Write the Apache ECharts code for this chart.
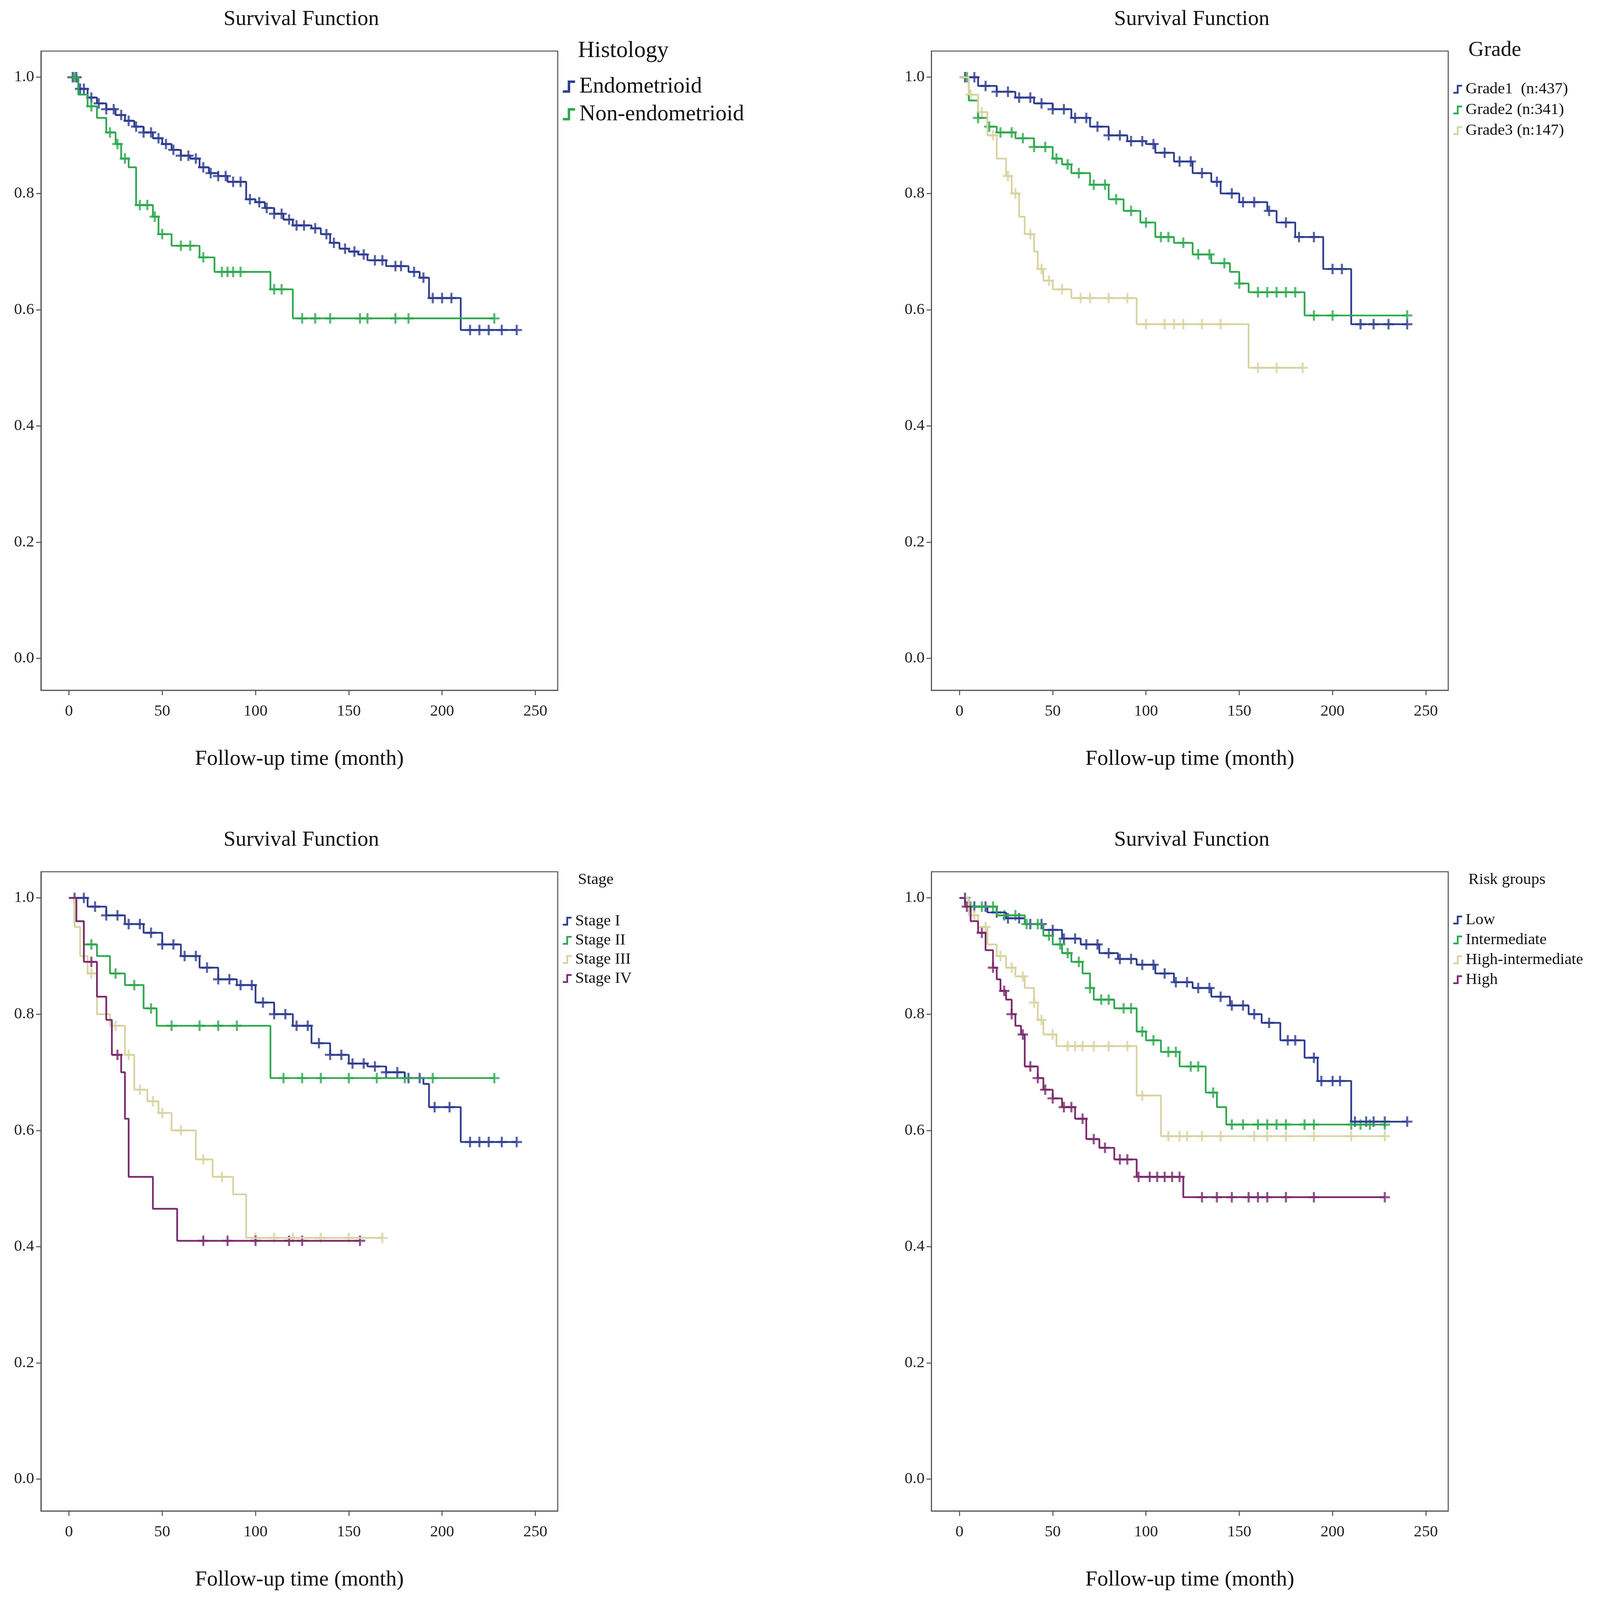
<!DOCTYPE html>
<html>
<head>
<meta charset="utf-8">
<script src="https://cdn.jsdelivr.net/npm/echarts@6/dist/echarts.min.js"></script>
<style>html,body{margin:0;background:#fff;overflow:hidden}#main{width:100vw;height:100vh}</style>
</head>
<body>
<div id="main"></div>
<script>
// step curves: [time, survival], last point = end of follow-up
const endo = [[0,1],[5,0.98],[10,0.965],[15,0.955],[20,0.945],[25,0.935],[30,0.925],[35,0.915],[40,0.905],[45,0.895],[50,0.885],[55,0.875],[60,0.865],[65,0.86],[70,0.845],[75,0.835],[80,0.83],[85,0.82],[95,0.79],[100,0.785],[105,0.775],[110,0.765],[115,0.755],[120,0.745],[130,0.74],[135,0.73],[140,0.715],[145,0.705],[150,0.7],[155,0.695],[160,0.685],[170,0.675],[182,0.665],[188,0.655],[193,0.62],[210,0.565],[240,0.565]]
const nonEndo = [[0,1],[5,0.97],[10,0.95],[15,0.93],[20,0.905],[25,0.885],[28,0.86],[32,0.845],[36,0.78],[45,0.76],[48,0.73],[55,0.71],[70,0.69],[78,0.665],[108,0.635],[120,0.585],[228,0.585]]
const endoCens = [2,4,6,8,12,16,20,24,28,32,36,40,44,48,52,56,60,64,68,72,76,80,84,88,92,97,102,106,110,114,118,122,126,132,138,142,148,153,158,164,168,175,178,185,190,195,200,205,215,220,225,232,240]
const nonEndoCens = [3,12,22,26,30,38,42,46,50,60,65,72,82,85,88,92,110,114,125,132,140,156,160,175,182,228]

const grade1 = [[0,1],[10,0.985],[20,0.975],[30,0.965],[40,0.955],[50,0.945],[60,0.93],[70,0.915],[80,0.9],[90,0.89],[100,0.885],[105,0.87],[115,0.855],[125,0.835],[135,0.82],[140,0.8],[150,0.785],[165,0.77],[170,0.75],[180,0.725],[195,0.67],[210,0.575],[240,0.575]]
const grade2 = [[0,1],[5,0.96],[10,0.93],[15,0.915],[20,0.905],[30,0.895],[40,0.88],[50,0.86],[55,0.85],[60,0.835],[70,0.815],[80,0.79],[88,0.77],[97,0.75],[105,0.725],[115,0.715],[125,0.695],[135,0.68],[145,0.665],[150,0.645],[155,0.63],[185,0.59],[240,0.59]]
const grade3 = [[0,1],[5,0.97],[10,0.94],[15,0.9],[20,0.86],[25,0.83],[28,0.8],[32,0.76],[35,0.73],[40,0.7],[42,0.67],[45,0.65],[50,0.635],[60,0.62],[95,0.575],[155,0.5],[184,0.5]]
const grade1Cens = [3,8,14,20,26,32,38,44,50,56,62,68,74,80,86,92,98,104,110,118,124,130,138,146,152,158,166,175,182,190,200,205,215,222,230,240]
const grade2Cens = [4,10,16,22,28,34,40,46,52,58,64,72,78,84,92,100,108,112,120,128,134,142,150,160,165,170,175,180,190,200,240]
const grade3Cens = [6,12,18,26,30,38,44,48,55,65,70,80,90,100,110,115,120,130,140,160,170,184]

const stage1 = [[0,1],[10,0.985],[20,0.97],[30,0.955],[40,0.94],[50,0.92],[60,0.9],[70,0.88],[80,0.86],[90,0.85],[100,0.82],[110,0.8],[120,0.78],[130,0.75],[140,0.73],[150,0.715],[160,0.71],[170,0.7],[180,0.69],[190,0.68],[193,0.64],[210,0.58],[240,0.58]]
const stage2 = [[0,1],[3,0.96],[8,0.92],[15,0.9],[22,0.87],[30,0.85],[40,0.81],[47,0.78],[108,0.69],[228,0.69]]
const stage3 = [[0,1],[3,0.95],[6,0.9],[10,0.87],[15,0.8],[22,0.78],[30,0.73],[35,0.67],[42,0.65],[48,0.63],[55,0.6],[68,0.55],[77,0.52],[88,0.49],[95,0.415],[168,0.415]]
const stage4 = [[0,1],[4,0.96],[8,0.89],[15,0.83],[20,0.79],[23,0.73],[28,0.7],[30,0.62],[32,0.52],[45,0.465],[58,0.41],[156,0.41]]
const stage1Cens = [3,8,14,20,26,32,38,44,50,56,62,68,74,80,86,92,98,104,110,116,122,128,134,140,146,152,158,164,170,176,182,188,196,204,215,220,225,232,240]
const stage2Cens = [12,25,35,44,55,70,80,90,115,125,135,150,165,180,195,228]
const stage3Cens = [12,25,32,38,45,50,60,72,82,100,110,120,135,150,168]
const stage4Cens = [12,26,72,85,100,118,125,156]

const low = [[0,1],[5,0.985],[15,0.975],[25,0.965],[35,0.955],[45,0.945],[55,0.93],[65,0.92],[75,0.905],[85,0.895],[95,0.885],[105,0.87],[115,0.855],[125,0.845],[135,0.83],[145,0.815],[155,0.8],[162,0.785],[172,0.755],[185,0.725],[192,0.685],[210,0.615],[240,0.615]]
const inter = [[0,1],[5,0.985],[20,0.97],[35,0.955],[45,0.935],[50,0.92],[55,0.905],[60,0.89],[66,0.87],[70,0.845],[72,0.825],[83,0.81],[95,0.77],[100,0.755],[108,0.735],[118,0.71],[132,0.665],[138,0.64],[143,0.61],[228,0.61]]
const highInter = [[0,1],[5,0.97],[10,0.95],[15,0.92],[20,0.9],[25,0.88],[30,0.865],[35,0.845],[40,0.82],[42,0.79],[45,0.765],[52,0.745],[95,0.66],[108,0.59],[228,0.59]]
const high = [[0,1],[3,0.985],[6,0.96],[10,0.94],[14,0.91],[18,0.88],[20,0.86],[22,0.84],[25,0.825],[28,0.8],[30,0.78],[33,0.765],[35,0.71],[42,0.69],[45,0.67],[50,0.655],[55,0.64],[62,0.62],[68,0.585],[75,0.57],[83,0.55],[95,0.52],[120,0.485],[228,0.485]]
const lowCens = [3,8,14,20,26,32,38,44,50,56,62,68,74,80,86,92,98,104,110,116,122,128,134,140,146,152,158,166,176,180,190,194,200,204,212,218,222,228,240]
const interCens = [6,12,18,24,30,36,42,48,54,58,64,70,76,80,88,92,98,104,112,116,124,128,136,146,152,160,165,170,175,185,190,210,215,220,228]
const highInterCens = [8,14,22,28,34,40,44,50,58,62,66,72,80,90,98,112,118,122,130,140,158,165,175,190,210,228]
const highCens = [4,12,18,24,28,34,38,42,46,50,56,60,66,72,78,86,90,96,102,106,110,114,118,130,138,146,155,160,165,175,190,228]

const xTicks = [0,50,100,150,200,250]
const yTicks = [0,0.2,0.4,0.6,0.8,1.0]

const C = {blue:'#2f3d8f', green:'#2fa84f', beige:'#d8d3a0', purple:'#7b2a6e'}
const serif = 'Liberation Serif'

function stepAt (curve, t) {
  let v = curve[0][1]
  for (let i = 0; i < curve.length; i++) if (curve[i][0] <= t) v = curve[i][1]
  return v
}

const panels = [
  {left:132, top:132, title:'Histology', titleSize:66, legendSize:64, legendTop:190, legendGap:14,
    lines:[['Endometrioid',endo,endoCens,C.blue],['Non-endometrioid',nonEndo,nonEndoCens,C.green]]},
  {left:3001, top:132, title:'Grade', titleSize:62, legendSize:46, legendTop:205, legendGap:12,
    lines:[['Grade1  (n:437)',grade1,grade1Cens,C.blue],['Grade2 (n:341)',grade2,grade2Cens,C.green],['Grade3 (n:147)',grade3,grade3Cens,C.beige]]},
  {left:132, top:2253, title:'Stage', titleSize:46, legendSize:46, legendTop:2355, legendGap:8,
    lines:[['Stage I',stage1,stage1Cens,C.blue],['Stage II',stage2,stage2Cens,C.green],['Stage III',stage3,stage3Cens,C.beige],['Stage IV',stage4,stage4Cens,C.purple]]},
  {left:3001, top:2253, title:'Risk groups', titleSize:46, legendSize:46, legendTop:2352, legendGap:10,
    lines:[['Low',low,lowCens,C.blue],['Intermediate',inter,interCens,C.green],['High-intermediate',highInter,highInterCens,C.beige],['High',high,highCens,C.purple]]}
]

const chart = echarts.init(document.getElementById('main'))
// layout designed for 5155x4135; scale to the real viewport
const sx = chart.getWidth() / 5155, sy = chart.getHeight() / 4135, sf = (sx + sy) / 2
const W = 1665, H = 1652
const grid = [], xAxis = [], yAxis = [], series = [], legend = [], graphic = [], title = []
const plus = 'path://M4,0H6V4H10V6H6V10H4V6H0V4H4Z'
const stepIcon = 'path://M0,9H4V1H10V3H6V11H0Z'

panels.forEach((p, i) => {
  grid.push({left:p.left * sx, top:p.top * sy, width:W * sx, height:H * sy, show:true, borderColor:'#555', borderWidth:3 * sf, backgroundColor:'#fff'})
  xAxis.push({gridIndex:i, type:'value', min:-15, max:262, name:'Follow-up time (month)', nameLocation:'middle', nameGap:150 * sy,
    nameTextStyle:{fontFamily:serif, fontSize:62 * sf, color:'#111'},
    splitLine:{show:false}, axisLine:{onZero:false, lineStyle:{color:'#555', width:3 * sf}},
    axisTick:{customValues:xTicks, length:14 * sf, lineStyle:{color:'#555', width:3 * sf}},
    axisLabel:{customValues:xTicks, fontFamily:serif, fontSize:46 * sf, color:'#222', margin:34 * sy}})
  yAxis.push({gridIndex:i, type:'value', min:-0.055, max:1.045,
    splitLine:{show:false}, axisLine:{onZero:false, lineStyle:{color:'#555', width:3 * sf}},
    axisTick:{customValues:yTicks, length:14 * sf, lineStyle:{color:'#555', width:3 * sf}},
    axisLabel:{customValues:yTicks, fontFamily:serif, fontSize:46 * sf, color:'#222', margin:22 * sx, formatter:v => v.toFixed(1)}})
  title.push({text:'Survival Function', left:(p.left + W / 2) * sx, textAlign:'center', top:(p.top - 115) * sy,
    textStyle:{fontFamily:serif, fontSize:62 * sf, fontWeight:'normal', color:'#111'}})
  graphic.push({type:'text', left:(p.left + W + 65) * sx, top:(p.top + (p.titleSize > 60 ? -30 : 0)) * sy,
    style:{text:p.title, fontFamily:serif, fontSize:p.titleSize * sf, fill:'#111'}})
  legend.push({orient:'vertical', left:(p.left + W + 10) * sx, top:p.legendTop * sy, itemGap:p.legendGap * sy,
    itemWidth:p.legendSize * 0.75 * sf, itemHeight:p.legendSize * 0.55 * sf, icon:stepIcon,
    data:p.lines.map(l => l[0]), textStyle:{fontFamily:serif, fontSize:p.legendSize * sf, color:'#111'}})
  p.lines.forEach(([name, curve, cens, col]) => {
    series.push({name, type:'line', step:'end', xAxisIndex:i, yAxisIndex:i, data:curve, symbol:'none',
      color:col, lineStyle:{color:col, width:5 * sf}})
    series.push({name:name + ' censored', type:'scatter', xAxisIndex:i, yAxisIndex:i, symbol:plus, symbolSize:30 * sf,
      itemStyle:{color:col}, data:cens.map(t => [t, stepAt(curve, t)])})
  })
})

chart.setOption({animation:false, backgroundColor:'#fff', title, grid, xAxis, yAxis, legend, graphic, series})
</script>
</body>
</html>
